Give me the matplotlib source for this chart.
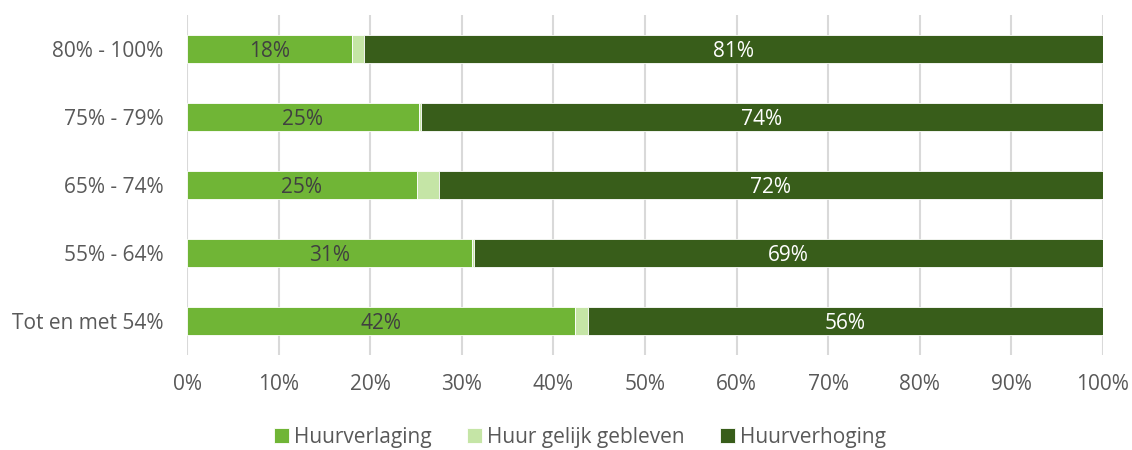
import matplotlib
matplotlib.use("Agg")
import matplotlib.pyplot as plt
import numpy as np

categories = ["Tot en met 54%", "55% - 64%", "65% - 74%", "75% - 79%", "80% - 100%"]
verlaging = [42.4, 31.1, 25.1, 25.3, 18.0]
gelijk = [1.4, 0.2, 2.4, 0.2, 1.3]
verhoging = [56.2, 68.7, 72.5, 74.5, 80.7]
series_names = ["Huurverlaging", "Huur gelijk gebleven", "Huurverhoging"]
colors = ["#70B536", "#C5E5A6", "#385D1A"]
xticks = np.arange(0, 101, 10)

plt.rcParams['font.family'] = ['Open Sans', 'DejaVu Sans']
fig = plt.figure(figsize=(11.32, 4.5), dpi=100)
ax = fig.add_axes([187/1132, 1-355/450, (1103-187)/1132, (355-15)/450])

y = np.arange(len(categories))
h = 0.41
left = np.zeros(len(categories))
for vals, name, c in zip([verlaging, gelijk, verhoging], series_names, colors):
    ax.barh(y, vals, left=left, height=h, color=c, label=name, edgecolor="white", linewidth=0.6, zorder=3)
    left = left + np.array(vals)

fs = 15
for i in range(len(categories)):
    ax.text(verlaging[i]/2, y[i], f"{round(verlaging[i])}%", ha="center", va="center_baseline",
            fontsize=fs, color="#404040", zorder=4)
    s = verlaging[i] + gelijk[i]
    ax.text(s + verhoging[i]/2, y[i], f"{round(verhoging[i])}%", ha="center", va="center_baseline",
            fontsize=fs, color="white", zorder=4)

ax.set_xlim(0, 100)
ax.set_ylim(-0.5, len(categories)-0.5)
ax.set_xticks(xticks)
ax.set_xticklabels([f"{t}%" for t in xticks])
ax.set_yticks(y)
ax.set_yticklabels(categories)
ax.tick_params(axis='both', length=0, labelsize=fs, labelcolor="#595959")
ax.tick_params(axis='x', pad=14)
ax.tick_params(axis='y', pad=17)
ax.grid(axis='x', color="#D9D9D9", linewidth=1.5, zorder=0)
for sp in ax.spines.values():
    sp.set_visible(False)

leg = fig.legend(loc="center", bbox_to_anchor=(580/1132, 1-437/450), ncol=3, frameon=False,
                 fontsize=fs, handlelength=0.7, handleheight=0.7, columnspacing=1.7,
                 handletextpad=0.25)
for t in leg.get_texts():
    t.set_color("#595959")

fig.savefig("out.png", dpi=100)
